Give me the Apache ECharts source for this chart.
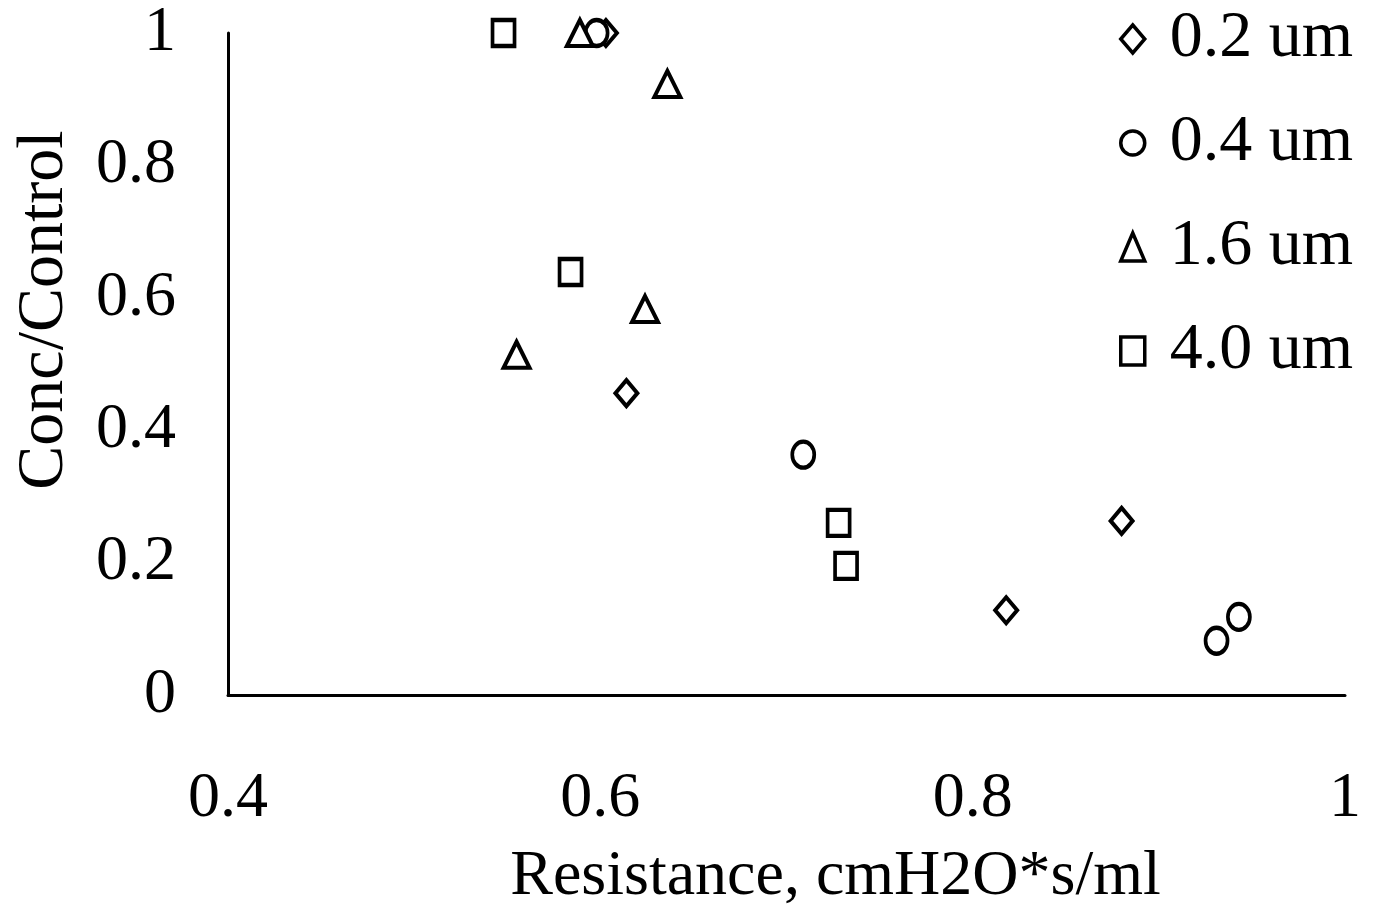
<!DOCTYPE html>
<html>
<head>
<meta charset="utf-8">
<title>Conc/Control vs Resistance</title>
<script src="https://cdn.jsdelivr.net/npm/echarts@6/dist/echarts.min.js"></script>
<style>
  html, body { margin: 0; padding: 0; background: #fff; }
  #chart { width: 1376px; height: 914px; }
</style>
</head>
<body>
<div id="chart"></div>
<script>
// series names (particle size)
const seriesNames = ['0.2 um', '0.4 um', '1.6 um', '4.0 um']
const seriesSymbols = ['diamond', 'circle', 'triangle', 'rect']

// [resistance, conc/control]
const data02 = [[0.603, 1.0], [0.614, 0.456], [0.818, 0.128], [0.880, 0.263]]
const data04 = [[0.598, 1.0], [0.709, 0.363], [0.931, 0.082], [0.943, 0.118]]
const data16 = [[0.589, 1.0], [0.636, 0.923], [0.624, 0.583], [0.555, 0.514]]
const data40 = [[0.548, 1.0], [0.584, 0.639], [0.728, 0.260], [0.732, 0.195]]
const seriesData = [data02, data04, data16, data40]

const font = "'Liberation Serif', 'Times New Roman', serif"

const chart = echarts.init(document.getElementById('chart'))

const option = {
  backgroundColor: '#fff',
  animation: false,
  textStyle: { fontFamily: font, color: '#000' },
  grid: {
    left: 228,
    right: 31,
    top: 33,
    bottom: 219
  },
  legend: {
    orient: 'vertical',
    left: 1114,
    top: 1,
    itemWidth: 24,
    itemHeight: 28,
    itemGap: 38,
    itemStyle: {
      color: '#fff',
      borderColor: '#000',
      borderWidth: 3.5,
      opacity: 1
    },
    textStyle: {
      fontFamily: font,
      fontSize: 66,
      lineHeight: 64,
      color: '#000',
      padding: [0, 0, 0, 20]
    },
    data: seriesNames
  },
  xAxis: {
    type: 'value',
    min: 0.4,
    max: 1,
    interval: 0.2,
    name: 'Resistance, cmH2O*s/ml',
    nameLocation: 'middle',
    nameGap: 150,
    nameTextStyle: {
      fontFamily: font,
      fontSize: 64,
      color: '#000',
      padding: [0, 0, 0, 98]
    },
    axisLine: { show: true, lineStyle: { color: '#000', width: 3 } },
    axisTick: { show: false },
    splitLine: { show: false },
    axisLabel: {
      fontFamily: font,
      fontSize: 64,
      color: '#000',
      margin: 72
    }
  },
  yAxis: {
    type: 'value',
    min: 0,
    max: 1,
    interval: 0.2,
    name: 'Conc/Control',
    nameLocation: 'middle',
    nameGap: 150,
    nameTextStyle: {
      fontFamily: font,
      fontSize: 66,
      color: '#000',
      padding: [0, 0, 0, 108]
    },
    axisLine: { show: true, lineStyle: { color: '#000', width: 3 } },
    axisTick: { show: false },
    splitLine: { show: false },
    axisLabel: {
      fontFamily: font,
      fontSize: 64,
      color: '#000',
      margin: 52
    }
  },
  series: seriesNames.map((name, i) => ({
    name: name,
    type: 'scatter',
    symbol: seriesSymbols[i],
    symbolSize: seriesSymbols[i] === 'triangle' ? [26, 26] : [22, 26],
    itemStyle: {
      color: '#fff',
      borderColor: '#000',
      borderWidth: 4,
      opacity: 1
    },
    data: seriesData[i]
  }))
}

chart.setOption(option)
</script>
</body>
</html>
